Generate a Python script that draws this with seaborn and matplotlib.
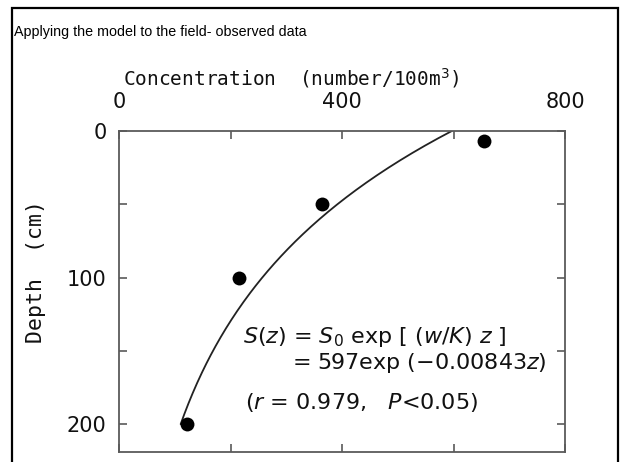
import numpy as np
import pandas as pd
import matplotlib
matplotlib.use("Agg")
import matplotlib.pyplot as plt
from matplotlib.patches import Rectangle
import seaborn as sns

# Observed concentrations (number/100m^3) at each sampling depth (cm)
depth_cm = [7, 50, 100, 200]
concentration = [655, 365, 215, 122]

# Fitted model S(z) = S0 * exp(-k z)
s0 = 597
k = 0.00843

x_ticks = [0, 200, 400, 600, 800]
x_tick_labels = ["0", "", "400", "", "800"]
y_ticks = [0, 50, 100, 150, 200]
y_tick_labels = ["0", "", "100", "", "200"]

title_text = "Applying the model to the field- observed data"
x_label = "Concentration  (number/100m$^3$)"
y_label = "Depth  (cm)"

sns.set_style("ticks")
plt.rcParams["font.family"] = ["DejaVu Sans"]
plt.rcParams["mathtext.fontset"] = "dejavusans"
plt.rcParams["mathtext.default"] = "it"

obs = pd.DataFrame({"depth": depth_cm, "conc": concentration})
z = np.linspace(0, 200, 200)
fit = pd.DataFrame({"depth": z, "conc": s0 * np.exp(-k * z)})

W, H = 621, 462
fig = plt.figure(figsize=(W / 100, H / 100), dpi=100)
ax = fig.add_axes([119 / W, 1 - 452 / H, (565 - 119) / W, (452 - 131) / H])

sns.lineplot(data=fit, x="conc", y="depth", sort=False, color="#222222",
             linewidth=1.3, ax=ax)
sns.scatterplot(data=obs, x="conc", y="depth", color="black", s=100,
                edgecolor="black", linewidth=0, zorder=5, ax=ax)

ax.set_xlim(0, 800)
ax.set_ylim(219, 0)

spine_color = "#5a5a5a"
for sp in ax.spines.values():
    sp.set_color(spine_color)
    sp.set_linewidth(1.3)
    sp.set_visible(True)

ax.xaxis.tick_top()
ax.set_xticks(x_ticks)
ax.set_xticklabels(x_tick_labels)
ax.set_yticks(y_ticks)
ax.set_yticklabels(y_tick_labels)
ax.tick_params(axis="x", which="both", direction="in", length=6, width=1.2,
               color=spine_color, top=True, bottom=True, labeltop=True,
               labelbottom=False, labelsize=15, pad=14, labelcolor="#111111")
ax.tick_params(axis="y", which="both", direction="in", length=6, width=1.2,
               color=spine_color, left=True, right=True, labelleft=True,
               labelright=False, labelsize=15, pad=9, labelcolor="#111111")

ax.set_xlabel(x_label, fontsize=14, family="DejaVu Sans Mono", color="#111111")
ax.xaxis.set_label_position("top")
ax.xaxis.set_label_coords((291 - 119) / (565 - 119), 1 + (131 - 78) / (452 - 131))
ax.xaxis.label.set_va("center")
ax.set_ylabel(y_label, fontsize=15.5, family="DejaVu Sans Mono", color="#111111")
ax.yaxis.set_label_coords(-(119 - 36) / (565 - 119), 1 - (272 - 131) / (452 - 131))
ax.yaxis.label.set_va("center")

eq_kw = dict(fontsize=16, color="#111111", family="DejaVu Sans",
             va="center", ha="left")
fig.text(243 / W, 1 - 337 / H,
         r"$S$($z$) = $S_\mathregular{0}$ exp [ ($w$/$K$) $z$ ]", **eq_kw)
fig.text(292 / W, 1 - 363 / H, r"= 597exp ($\mathregular{-}$0.00843$z$)", **eq_kw)
fig.text(245 / W, 1 - 403 / H, r"($r$ = 0.979,   $P$<0.05)", **eq_kw)

fig.text(14 / W, 1 - 32 / H, title_text, fontsize=10.3, family="Liberation Sans",
         va="center", ha="left", color="black")

fig.patches.append(Rectangle((12 / W, -0.1), (618 - 12) / W, 1.1 - 8 / H,
                             transform=fig.transFigure, fill=False,
                             edgecolor="black", linewidth=1.6))

fig.savefig("out.png", dpi=100)
